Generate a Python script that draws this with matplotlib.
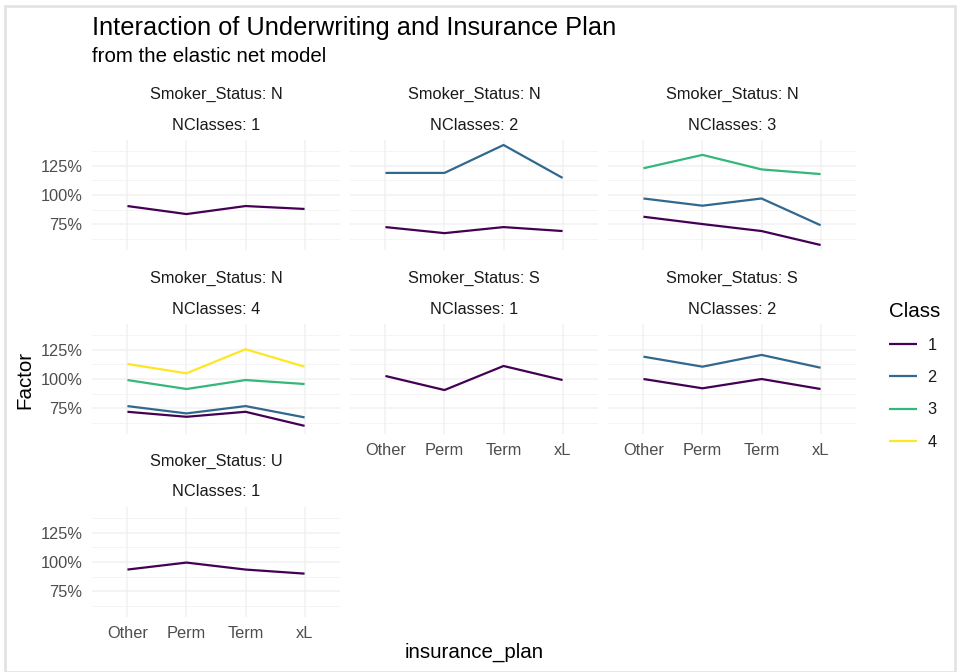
import matplotlib
matplotlib.use('Agg')
import matplotlib.pyplot as plt
from matplotlib.ticker import FuncFormatter
from matplotlib.patches import Rectangle

plt.rcParams['font.family'] = ['Liberation Sans', 'DejaVu Sans']

# datos
plans = ['Other', 'Perm', 'Term', 'xL']
class_colors = ['#440154', '#31688E', '#35B779', '#FDE725']

panel_smoker = ['N', 'N', 'N', 'N', 'S', 'S', 'U']
panel_nclasses = [1, 2, 3, 4, 1, 2, 1]

n1_class1 = [0.905, 0.836, 0.905, 0.880]

n2_class1 = [0.724, 0.672, 0.724, 0.690]
n2_class2 = [1.190, 1.190, 1.430, 1.147]

n3_class1 = [0.813, 0.750, 0.690, 0.570]
n3_class2 = [0.970, 0.908, 0.970, 0.740]
n3_class3 = [1.230, 1.345, 1.220, 1.180]

n4_class1 = [0.718, 0.675, 0.718, 0.597]
n4_class2 = [0.767, 0.704, 0.767, 0.670]
n4_class3 = [0.991, 0.914, 0.991, 0.957]
n4_class4 = [1.129, 1.049, 1.256, 1.106]

s1_class1 = [1.026, 0.905, 1.112, 0.991]

s2_class1 = [1.000, 0.920, 1.000, 0.914]
s2_class2 = [1.192, 1.106, 1.207, 1.097]

u1_class1 = [0.935, 0.995, 0.935, 0.900]

panel_series = [
    [n1_class1],
    [n2_class1, n2_class2],
    [n3_class1, n3_class2, n3_class3],
    [n4_class1, n4_class2, n4_class3, n4_class4],
    [s1_class1],
    [s2_class1, s2_class2],
    [u1_class1],
]

W, H = 961, 672
fig = plt.figure(figsize=(W / 100, H / 100), dpi=100)
fig.patch.set_facecolor('white')

# marco gris del pantallazo
fig.patches.append(Rectangle((5 / W, 0), (955 - 5) / W, (H - 6) / H,
                             transform=fig.transFigure, fill=False,
                             edgecolor='#E3E3E3', linewidth=2))


def px_axes(left, top, width, height):
    return fig.add_axes([left / W, 1 - (top + height) / H, width / W, height / H])


all_vals = [v for series in panel_series for s in series for v in s]
vmin, vmax = min(all_vals), max(all_vals)
pad = (vmax - vmin) * 0.05
ylim = (vmin - pad, vmax + pad)

col_left = [92, 350, 608]
row_top = [140, 324, 507]
pw, ph = 248, 110
grid_c = '#F1F1F1'
tick_c = '#4D4D4D'
strip_c = '#1A1A1A'

last_in_col = {0: 6, 1: 4, 2: 5}

handles = []
for i, series in enumerate(panel_series):
    r, c = divmod(i, 3)
    ax = px_axes(col_left[c], row_top[r], pw, ph)
    ax.set_facecolor('white')
    for sp in ax.spines.values():
        sp.set_visible(False)
    x = list(range(len(plans)))
    ax.set_xlim(-0.6, len(plans) - 0.4)
    ax.set_ylim(*ylim)
    ax.set_yticks([0.75, 1.0, 1.25])
    ax.set_yticks([0.625, 0.875, 1.125, 1.375], minor=True)
    ax.set_xticks(x)
    ax.grid(True, which='major', color=grid_c, linewidth=1.1)
    ax.grid(True, which='minor', axis='y', color=grid_c, linewidth=0.55)
    ax.set_axisbelow(True)
    ax.tick_params(which='both', length=0, colors=tick_c, labelsize=11.8)
    ax.tick_params(axis='y', pad=7)
    ax.tick_params(axis='x', pad=6.5)
    ax.yaxis.set_major_formatter(FuncFormatter(lambda v, p: f'{v * 100:.0f}%'))
    if c != 0:
        ax.set_yticklabels([])
    if last_in_col[c] == i:
        ax.set_xticklabels(plans)
    else:
        ax.set_xticklabels([])
    for k, vals in enumerate(series):
        ln, = ax.plot(x, vals, color=class_colors[k], linewidth=1.6,
                      solid_capstyle='butt')
        if i == 3:
            handles.append(ln)
    cx = (col_left[c] + pw / 2) / W
    fig.text(cx, 1 - (row_top[r] - 46) / H, f'Smoker_Status: {panel_smoker[i]}',
             ha='center', va='center', fontsize=11.8, color=strip_c)
    fig.text(cx, 1 - (row_top[r] - 15) / H, f'NClasses: {panel_nclasses[i]}',
             ha='center', va='center', fontsize=11.8, color=strip_c)

fig.text(92 / W, 1 - 28 / H, 'Interaction of Underwriting and Insurance Plan',
         ha='left', va='center', fontsize=18.3, color='black')
fig.text(92 / W, 1 - 57 / H, 'from the elastic net model',
         ha='left', va='center', fontsize=14.8, color='black')
fig.text(474 / W, 1 - 652 / H, 'insurance_plan', ha='center', va='center',
         fontsize=14.8, color='black')
fig.text(25 / W, 1 - 380 / H, 'Factor', ha='center', va='center',
         rotation=90, fontsize=14.8, color='black')

leg = fig.legend(handles, ['1', '2', '3', '4'], title='Class',
                 loc='upper left', bbox_to_anchor=(874 / W, 1 - 287 / H),
                 frameon=False, fontsize=11.8, title_fontsize=14.8,
                 handlelength=1.75, handletextpad=0.6, labelspacing=1.05,
                 alignment='left')
for t in leg.get_texts():
    t.set_color(strip_c)

fig.savefig('out.png', dpi=100, facecolor='white')
